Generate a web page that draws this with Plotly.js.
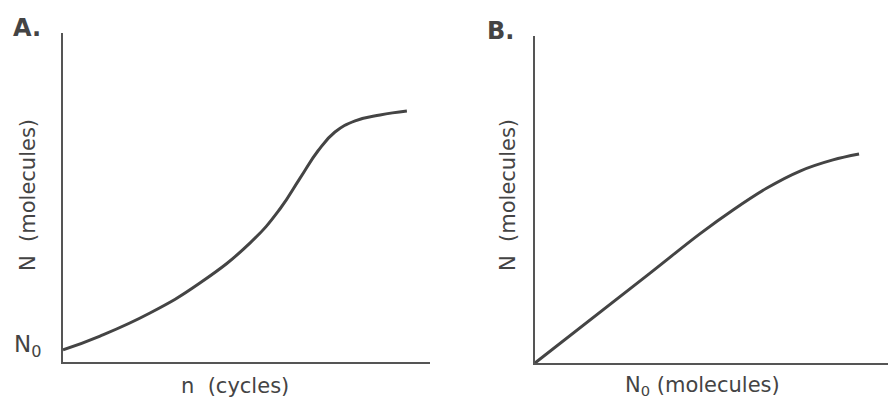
<!DOCTYPE html>
<html><head><meta charset="utf-8">
<script src="https://cdn.plot.ly/plotly-3.0.1.min.js"></script>
<style>html,body{margin:0;padding:0;background:#fff}#plot{width:888px;height:403px}</style>
</head><body><div id="plot"></div>
<script>
// Panel A: PCR product N vs cycles n (arbitrary units)
const cyclesA = [0, 10.1, 23.7, 37.3, 51.0, 59.1, 64.6, 69.5, 74.1, 79.6, 86.4, 93.7];
const moleculesA = [3.7, 7.9, 14.9, 24.0, 36.2, 46.5, 55.9, 64.2, 69.9, 73.3, 75.1, 76.3];
// Panel B: N vs starting amount N0 (arbitrary units)
const startB = [0, 32.6, 46.7, 56.1, 65.7, 75.1, 84.4, 91.8];
const moleculesB = [0, 27.5, 39.5, 46.8, 53.5, 58.7, 62.1, 63.9];

const W = 888, H = 403;
const px = x => x / W, py = y => 1 - y / H;
const ink = '#444';
const font = {family: 'DejaVu Sans, sans-serif', size: 21, color: ink};

const axisBase = {showline: true, linecolor: '#555', linewidth: 2, showgrid: false,
  zeroline: false, showticklabels: false, ticks: '', range: [0, 100], fixedrange: true};

const traces = [
  {x: cyclesA, y: moleculesA, xaxis: 'x', yaxis: 'y', mode: 'lines',
   line: {color: ink, width: 3, shape: 'spline', smoothing: 1.3}, hoverinfo: 'skip'},
  {x: startB, y: moleculesB, xaxis: 'x2', yaxis: 'y2', mode: 'lines',
   line: {color: ink, width: 3, shape: 'spline', smoothing: 1}, hoverinfo: 'skip'}
];

function label(text, x, y, f, angle) {
  return {text: text, x: px(x), y: py(y), xref: 'paper', yref: 'paper', showarrow: false,
    xanchor: 'center', yanchor: 'middle', textangle: angle || 0, font: f};
}
const bigBold = {family: 'DejaVu Sans, sans-serif', size: 24, color: ink};
const n0Font = {family: 'DejaVu Sans, sans-serif', size: 23, color: ink};

const layout = {
  width: W, height: H, margin: {l: 0, r: 0, t: 0, b: 0},
  paper_bgcolor: '#fff', plot_bgcolor: '#fff', showlegend: false,
  xaxis: Object.assign({}, axisBase, {domain: [px(63), px(430)], anchor: 'y'}),
  yaxis: Object.assign({}, axisBase, {domain: [py(362), py(33)], anchor: 'x'}),
  xaxis2: Object.assign({}, axisBase, {domain: [px(535), 1], anchor: 'y2'}),
  yaxis2: Object.assign({}, axisBase, {domain: [py(363), py(36)], anchor: 'x2'}),
  annotations: [
    label('<b>A.</b>', 27, 28, bigBold),
    label('<b>B.</b>', 500, 31, bigBold),
    label('N  (molecules)', 28, 195, font, -90),
    label('N  (molecules)', 508, 195, font, -90),
    label('n  (cycles)', 235, 386, font),
    label('N<sub>0</sub> (molecules)', 702, 386, font),
    label('N<sub>0</sub>', 28, 346, n0Font)
  ]
};

Plotly.newPlot('plot', traces, layout, {staticPlot: true, displayModeBar: false});
</script>
</body></html>
